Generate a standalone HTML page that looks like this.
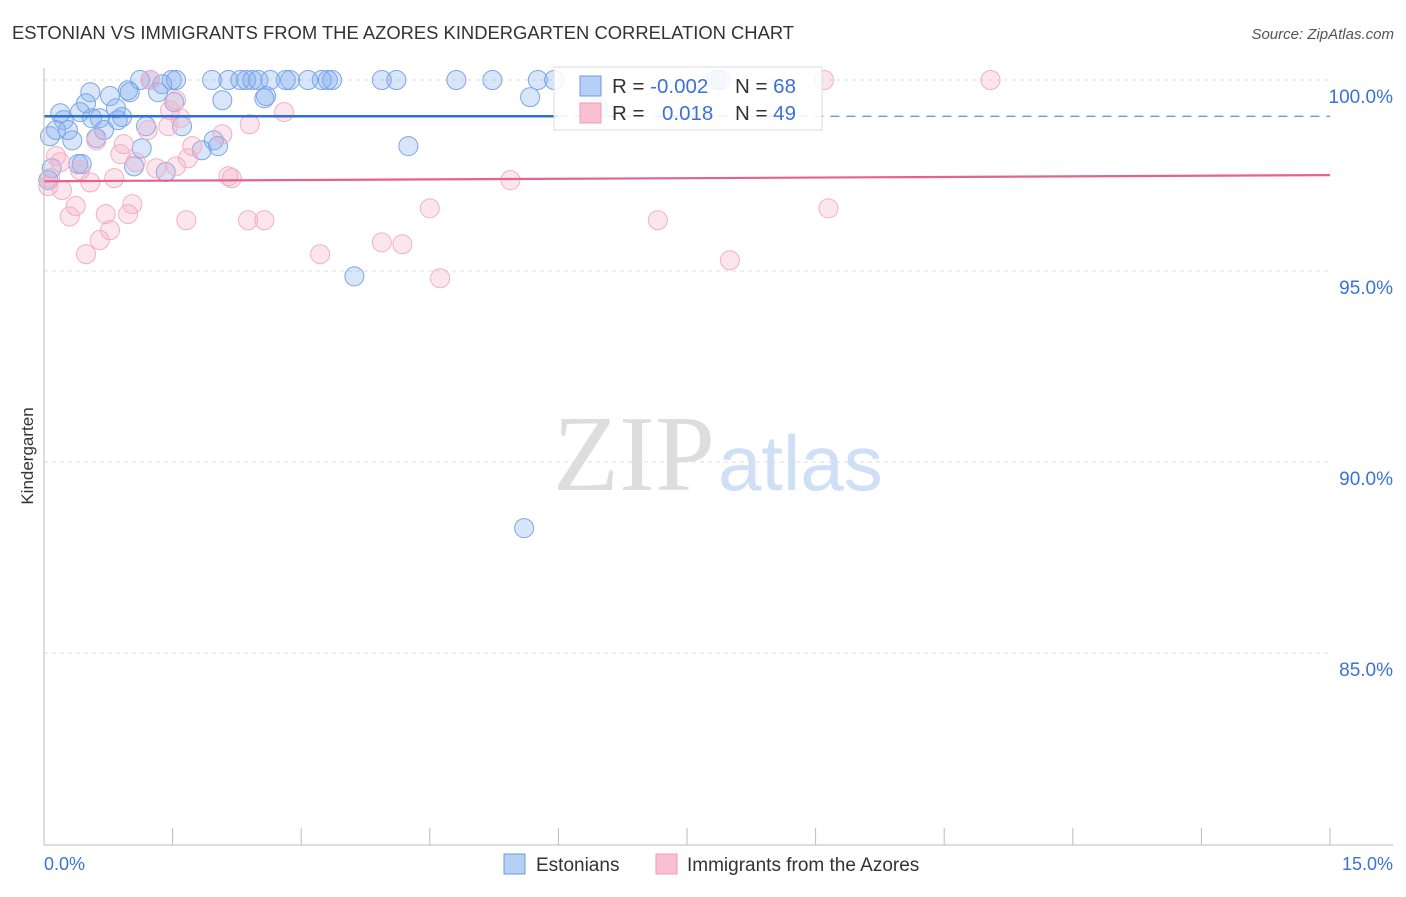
<!DOCTYPE html>
<html><head><meta charset="utf-8"><style>
body{margin:0;background:#fff;font-family:"Liberation Sans",sans-serif}
svg text{font-family:"Liberation Sans",sans-serif}
</style></head><body>
<svg id="c" width="1406" height="892">
<text x="12" y="39" font-size="18.4" fill="#333">ESTONIAN VS IMMIGRANTS FROM THE AZORES KINDERGARTEN CORRELATION CHART</text>
<text x="1394" y="39" font-size="15" fill="#555" font-style="italic" text-anchor="end">Source: ZipAtlas.com</text>
<text x="33" y="456" font-size="17" fill="#333" text-anchor="middle" transform="rotate(-90 33 456)">Kindergarten</text>
<g><text x="553" y="490" font-size="108" fill="#ddd" style="font-family:'Liberation Serif',serif">ZIP</text><text x="718" y="490" font-size="78" fill="#cfdff5">atlas</text></g>
<g id="grid"></g><g id="pts"></g><g id="trend"></g><g id="axes"></g>
<g>
<rect x="554" y="67" width="268" height="63" fill="#fff" fill-opacity="0.85" stroke="#ddd"/>
<rect x="580" y="76" width="21" height="20" fill="#b5cff5" stroke="#6b9be6"/>
<rect x="580" y="103" width="21" height="20" fill="#f9c0d2" stroke="#f09ab5"/>
<text x="612" y="93" font-size="20.5" fill="#333">R = <tspan fill="#3a72d6">-0.002</tspan></text>
<text x="735" y="93" font-size="20.5" fill="#333">N = <tspan fill="#3a72d6">68</tspan></text>
<text x="612" y="120" font-size="20.5" fill="#333">R = <tspan fill="#3a72d6" x="662">0.018</tspan></text>
<text x="735" y="120" font-size="20.5" fill="#333">N = <tspan fill="#3a72d6">49</tspan></text>
</g>
<g>
<rect x="504" y="854" width="21" height="20" fill="#b5cff5" stroke="#6b9be6"/>
<text x="536" y="871" font-size="19" fill="#333">Estonians</text>
<rect x="656" y="854" width="21" height="20" fill="#f9c0d2" stroke="#f09ab5"/>
<text x="687" y="871" font-size="19" fill="#333">Immigrants from the Azores</text>
</g>
</svg>
<script>
const yTicks=[100,95,90,85];
const yTickLabels=["100.0%","95.0%","90.0%","85.0%"];
const xTickLabels=["0.0%","15.0%"];
const blueX=[1.12,1.24,1.49,1.54,1.96,2.15,2.29,2.36,2.43,2.50,2.64,2.82,2.87,3.08,3.24,3.31,3.36,3.94,4.11,4.81,5.23,5.76,5.95,7.84,7.89,1.38,1.33,0.54,0.77,0.98,1.00,2.08,2.57,2.59,5.67,1.52,0.49,0.19,0.84,0.42,0.56,0.65,0.91,0.86,0.23,1.19,1.61,0.14,0.28,0.70,0.07,0.33,0.61,1.98,1.14,2.03,1.84,4.25,0.40,0.44,1.05,1.42,0.09,0.05,3.62,5.60,6.46];
const blueY=[100,100,100,100,100,100,100,100,100,100,100,100,100,100,100,100,100,100,100,100,100,100,100,100,100,99.89,99.68,99.68,99.58,99.73,99.68,99.47,99.52,99.58,99.55,99.42,99.39,99.13,99.26,99.16,99.0,99.0,99.03,98.95,98.95,98.79,98.79,98.69,98.69,98.69,98.53,98.42,98.48,98.42,98.21,98.27,98.16,98.27,97.8,97.8,97.74,97.59,97.69,97.38,94.86,88.27,99.26];
const pinkX=[1.24,9.10,11.04,1.54,1.47,2.80,1.59,2.40,2.08,1.45,1.21,0.61,0.93,1.73,0.14,0.89,1.68,1.07,0.19,0.42,1.54,1.31,2.15,2.19,0.54,0.82,0.05,0.21,5.44,1.03,0.37,4.50,9.15,0.72,0.98,0.30,1.66,2.38,2.57,7.16,0.77,0.65,3.94,4.18,0.49,3.22,8.00,4.62,0.07];
const pinkY=[100,100,100,99.47,99.21,99.16,99.0,98.84,98.58,98.79,98.69,98.42,98.32,98.27,98.01,98.06,97.95,97.85,97.85,97.64,97.74,97.69,97.48,97.43,97.32,97.43,97.22,97.12,97.38,96.75,96.7,96.64,96.64,96.49,96.49,96.43,96.33,96.33,96.33,96.33,96.07,95.81,95.75,95.7,95.44,95.44,95.28,94.81,97.43];
const blueTrend=[99.05,99.05];
const pinkTrend=[97.35,97.51];
const X=v=>44+v*(1286/15), Y=v=>80+(100-v)*38.2;
const NS="http://www.w3.org/2000/svg";
function mk(t,a,p){const e=document.createElementNS(NS,t);for(const k in a)e.setAttribute(k,a[k]);p.appendChild(e);return e;}
const grid=document.getElementById('grid'),axes=document.getElementById('axes'),pts=document.getElementById('pts'),tr=document.getElementById('trend');
yTicks.forEach((t,i)=>{
 const l=mk('line',{x1:44,x2:1330,y1:Y(t),y2:Y(t),stroke:'#ddd','stroke-dasharray':'4,4'},grid);
 
 
 const tx=mk('text',{x:1393,y:Y(t)+23,'font-size':19,fill:'#3a72d6','text-anchor':'end'},axes);
 tx.textContent=yTickLabels[i];
 
 
});
const ya=mk('line',{x1:44,x2:44,y1:68,y2:845,stroke:'#bbb'},axes);


const xa=mk('line',{x1:44,x2:1393,y1:845,y2:845,stroke:'#bbb'},axes);


for(let i=0;i<=10;i++){const t=mk('line',{x1:X(i*1.5),x2:X(i*1.5),y1:828,y2:845,stroke:'#bbb'},axes);
 
 }
const xl0=mk('text',{x:44,y:870,'font-size':18,fill:'#3a72d6'},axes);xl0.textContent=xTickLabels[0];


const xl1=mk('text',{x:1393,y:870,'font-size':18,fill:'#3a72d6','text-anchor':'end'},axes);xl1.textContent=xTickLabels[1];


blueX.forEach((v,i)=>{const c=mk('circle',{cx:X(v),cy:Y(blueY[i]),r:9.5,fill:'rgba(130,172,238,0.3)',stroke:'#7aa6e8','stroke-width':1},pts);
 
 });
pinkX.forEach((v,i)=>{const c=mk('circle',{cx:X(v),cy:Y(pinkY[i]),r:9.5,fill:'rgba(245,165,195,0.28)',stroke:'#f2afc4','stroke-width':1},pts);
 
 });
const b1=mk('line',{x1:X(0),x2:X(6),y1:Y(blueTrend[0]),y2:Y(blueTrend[0]+(blueTrend[1]-blueTrend[0])*6/15),stroke:'#2f6fd6','stroke-width':2.5},tr);


const b2=mk('line',{x1:X(6),x2:X(15),y1:Y(blueTrend[0]+(blueTrend[1]-blueTrend[0])*6/15),y2:Y(blueTrend[1]),stroke:'#6b9be6','stroke-width':1.3,'stroke-dasharray':'9,7'},tr);


const p1=mk('line',{x1:X(0),x2:X(15),y1:Y(pinkTrend[0]),y2:Y(pinkTrend[1]),stroke:'#e5628e','stroke-width':2.2},tr);


</script>
</body></html>
